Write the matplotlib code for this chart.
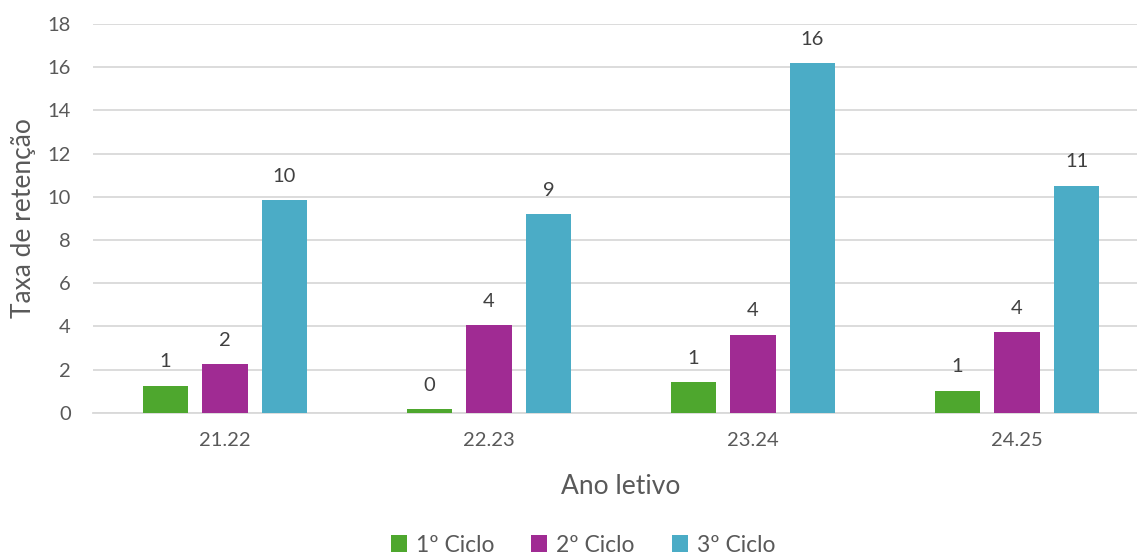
import matplotlib
matplotlib.use("Agg")
import matplotlib.pyplot as plt
import numpy as np

years = ["21.22", "22.23", "23.24", "24.25"]
series = ["1º Ciclo", "2º Ciclo", "3º Ciclo"]
ciclo1 = [1.25, 0.16, 1.42, 1.02]
ciclo2 = [2.24, 4.05, 3.62, 3.72]
ciclo3 = [9.85, 9.2, 16.18, 10.52]

COLORS = ["#4EA72E", "#A02B93", "#4BACC6"]
TEXT = "#595959"
GRID = "#D9D9D9"

plt.rcParams["font.family"] = ["Lato", "DejaVu Sans"]

fig = plt.figure(figsize=(11.37, 5.54), dpi=100)
ax = fig.add_axes([93 / 1137, 1 - 412.7 / 554, 1056 / 1137, 388.7 / 554])

x = np.arange(len(years))
pitch = 0.2254
width = 0.174
for i, (name, vals) in enumerate(zip(series, [ciclo1, ciclo2, ciclo3])):
    pos = x + (i - 1) * pitch
    bars = ax.bar(pos, vals, width, color=COLORS[i], label=name, zorder=3)
    for b, v in zip(bars, vals):
        ax.annotate(f"{round(v)}", (b.get_x() + b.get_width() / 2, v),
                    xytext=(0, 11), textcoords="offset points",
                    ha="center", va="bottom", fontsize=14.5, color="#404040")

ax.set_xlim(-0.5, 3.5)
ax.set_ylim(0, 18)
ax.set_yticks(range(0, 19, 2))
ax.set_xticks(x)
ax.set_xticklabels(years)
ax.yaxis.grid(True, color=GRID, linewidth=1.3, zorder=0)
ax.set_axisbelow(True)
for s in ["top", "right", "left"]:
    ax.spines[s].set_visible(False)
ax.spines["bottom"].set_color(GRID)
ax.spines["bottom"].set_linewidth(1.3)
ax.tick_params(axis="both", length=0, labelsize=14.5, colors=TEXT)
ax.tick_params(axis="y", pad=16)
ax.tick_params(axis="x", pad=14)

ax.set_xlabel("Ano letivo", fontsize=19, color=TEXT, labelpad=18)
ax.set_ylabel("Taxa de retenção", fontsize=19, color=TEXT, labelpad=8)

fig.legend(loc="center", bbox_to_anchor=(583 / 1137, 1 - 545 / 554),
           ncol=3, frameon=False, fontsize=16.5, labelcolor=TEXT,
           handlelength=0.7, handleheight=0.7, handletextpad=0.4,
           columnspacing=1.6)

fig.savefig("out.png", dpi=100)
